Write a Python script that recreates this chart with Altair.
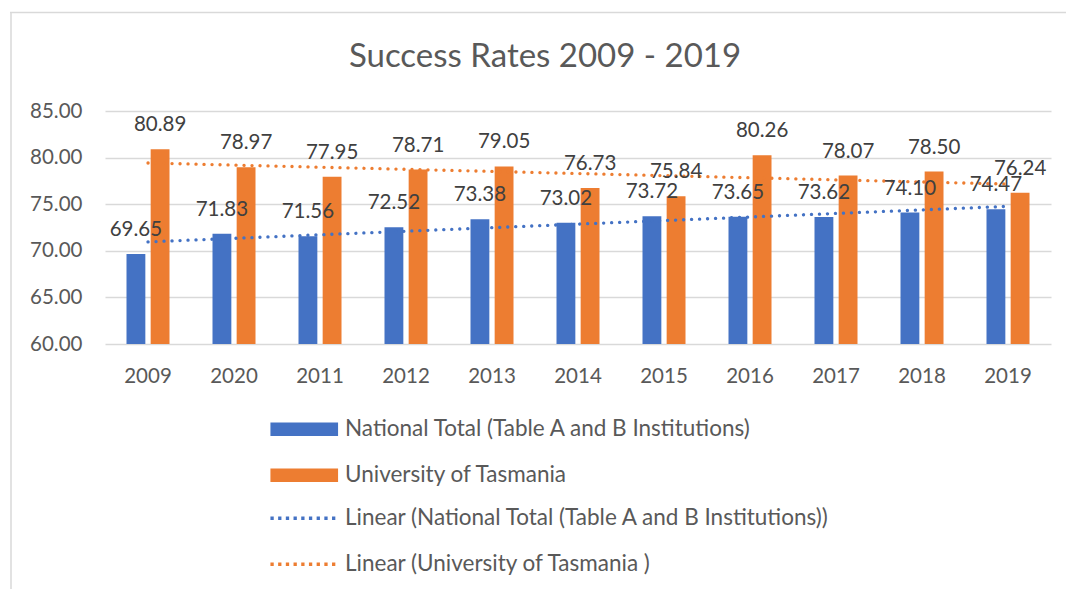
import altair as alt
import pandas as pd

# ---- data ----
years = ["2009", "2020", "2011", "2012", "2013", "2014", "2015", "2016", "2017", "2018", "2019"]
series_names = ["National Total (Table A and B Institutions)", "University of Tasmania "]
national = [69.65, 71.83, 71.56, 72.52, 73.38, 73.02, 73.72, 73.65, 73.62, 74.10, 74.47]
utas = [80.89, 78.97, 77.95, 78.71, 79.05, 76.73, 75.84, 80.26, 78.07, 78.50, 76.24]
trend_names = ["Linear (National Total (Table A and B Institutions))", "Linear (University of Tasmania )"]
y_ticks = [60, 65, 70, 75, 80, 85]
colors = ["#4472C4", "#ED7D31"]

rows = []
for s, vals in zip(series_names, [national, utas]):
    for i, (yr, v) in enumerate(zip(years, vals)):
        rows.append({"year": yr, "idx": i, "series": s, "value": v})
df = pd.DataFrame(rows)
frame_df = pd.DataFrame({"k": [0]})

FONT = "Lato"
AXIS_COLOR = "#595959"
GRID = "#d9d9d9"

ysc = alt.Scale(domain=[60, 85], zero=False, nice=False)
y_axis = alt.Axis(
    title=None, values=y_ticks, format=".2f", labelFont=FONT, labelFontSize=20.5,
    labelColor=AXIS_COLOR, labelPadding=23, ticks=False, domain=False,
    gridColor=GRID, gridWidth=1.5,
)
y_enc = alt.Y("value:Q", scale=ysc, axis=y_axis)
x_enc = alt.X(
    "year:N",
    sort=years,
    scale=alt.Scale(domain=years, paddingInner=0.5, paddingOuter=0.25),
    axis=alt.Axis(
        title=None, labelAngle=0, labelFont=FONT, labelFontSize=20.5, labelColor=AXIS_COLOR,
        labelPadding=22, ticks=False, domain=False, grid=False,
    ),
)
xoff_enc = alt.XOffset(
    "series:N", sort=series_names,
    scale=alt.Scale(domain=series_names, paddingInner=0.22, paddingOuter=0),
)

legend_common = dict(
    title=None, orient="none", direction="vertical", labelFont=FONT, labelFontSize=22.5,
    labelColor=AXIS_COLOR, labelLimit=1000, padding=0, rowPadding=23, labelOffset=29.5,
    symbolType="M-5,-1H5V1H-5Z", symbolSize=183,
)

bars = alt.Chart(df).mark_bar(clip=True).encode(
    x=x_enc,
    xOffset=xoff_enc,
    y=y_enc,
    fill=alt.Fill(
        "series:N",
        scale=alt.Scale(domain=series_names, range=colors),
        legend=alt.Legend(legendX=188, legendY=307, symbolStrokeWidth=0, **legend_common),
    ),
)

labels = alt.Chart(df).mark_text(
    baseline="alphabetic", dy=-18, font=FONT, fontSize=20.5, color="#404040"
).encode(
    x=x_enc,
    xOffset=xoff_enc,
    y=y_enc,
    text=alt.Text("value:Q", format=".2f"),
)

# Linear trendlines (least squares over the category index), computed by Vega-Lite
trend = (
    alt.Chart(df)
    .transform_calculate(xy="datum.idx * datum.value", xx="datum.idx * datum.idx")
    .transform_joinaggregate(
        sx="sum(idx)", sy="sum(value)", sxy="sum(xy)", sxx="sum(xx)", n="count()",
        groupby=["series"],
    )
    .transform_calculate(
        slope="(datum.n * datum.sxy - datum.sx * datum.sy) / (datum.n * datum.sxx - datum.sx * datum.sx)"
    )
    .transform_calculate(
        fit="(datum.sy - datum.slope * datum.sx) / datum.n + datum.slope * datum.idx",
        trend="'Linear (' + datum.series + ')'",
    )
    .mark_line(strokeWidth=3.3, strokeCap="round", strokeDash=[0.1, 7.9])
    .encode(
        x=x_enc,
        y=alt.Y("fit:Q", scale=ysc, axis=y_axis),
        stroke=alt.Stroke(
            "trend:N",
            scale=alt.Scale(domain=trend_names, range=colors),
            legend=alt.Legend(
                legendX=188, legendY=396, symbolStrokeWidth=3.3, symbolDash=[3.3, 4.4],
                **{**legend_common, "symbolType": "M-5,0H5"},
            ),
        ),
    )
)

frame_top = alt.Chart(frame_df).mark_rule(color=GRID, strokeWidth=1.5).encode(
    x=alt.value(-95), x2=alt.value(961), y=alt.value(-98.5)
)
frame_left = alt.Chart(frame_df).mark_rule(color=GRID, strokeWidth=1.5).encode(
    x=alt.value(-94), y=alt.value(-98.5), y2=alt.value(478)
)

chart = (
    alt.layer(frame_top, frame_left, bars, trend, labels)
    .properties(
        width=946,
        height=233,
        padding={"left": 105, "top": 111, "right": 15, "bottom": 245},
        autosize=alt.AutoSizeParams(type="none"),
        background="white",
        title=alt.TitleParams(
            "Success Rates 2009 - 2019", font=FONT, fontSize=33, fontWeight="normal",
            color=AXIS_COLOR, anchor="middle", frame="group", dx=-33, baseline="alphabetic",
            offset=-88.5,
        ),
    )
    .configure_view(stroke=None)
)

chart.save("out.html", embed_options={"renderer": "svg", "actions": False})
